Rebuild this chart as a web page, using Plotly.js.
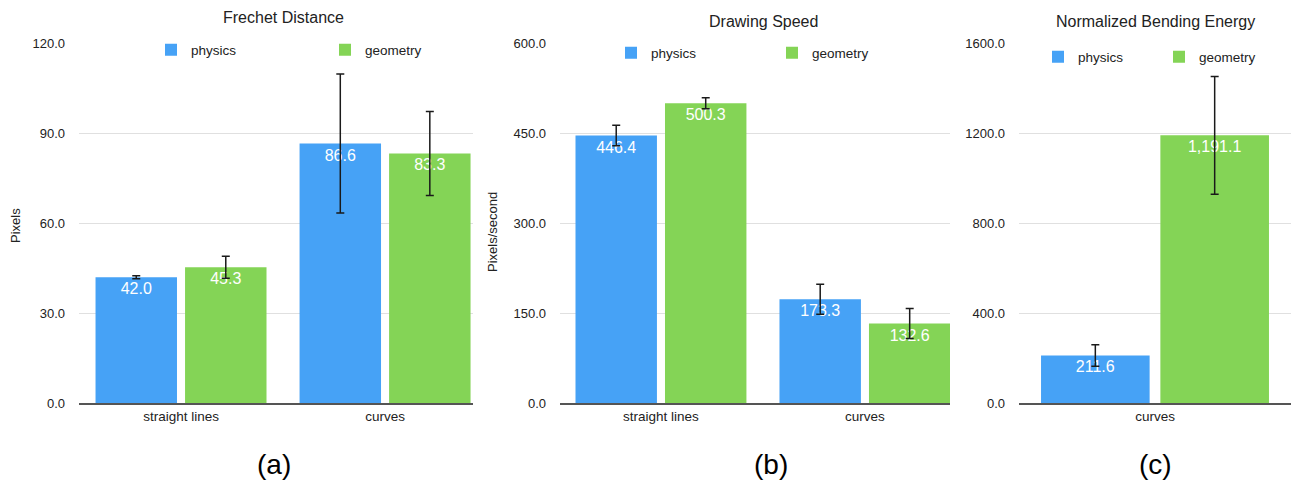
<!DOCTYPE html>
<html>
<head>
<meta charset="utf-8">
<script src="https://cdn.plot.ly/plotly-3.0.1.min.js"></script>
<style>html,body{margin:0;padding:0;background:#fff;}#chart{width:1291px;height:484px;}</style>
</head>
<body>
<div id="chart"></div>
<script>
// ---- data ----
const categoriesAB = ['straight lines', 'curves'];
const categoriesC = ['curves'];
const seriesNames = ['physics', 'geometry'];

const frechetPhysics = [42.0, 86.6];
const frechetPhysicsErr = [0.5, 23.2];
const frechetGeometry = [45.3, 83.3];
const frechetGeometryErr = [3.7, 14.0];

const speedPhysics = [446.4, 173.3];
const speedPhysicsErr = [17, 25];
const speedGeometry = [500.3, 132.6];
const speedGeometryErr = [9, 25];

const bendingPhysics = [211.6];
const bendingPhysicsErr = [48];
const bendingGeometry = [1191.1];
const bendingGeometryErr = [262];

const panelTitles = ['Frechet Distance', 'Drawing Speed', 'Normalized Bending Energy'];
const yTitles = ['Pixels', 'Pixels/second'];
const panelLabels = ['(a)', '(b)', '(c)'];

// ---- style ----
const FONT = 'Liberation Sans, Arial, Helvetica, sans-serif';
const BLUE = '#46a2f6';
const GREEN = '#84d456';
const W = 1291, H = 484;

function bar(name, color, x, y, err, xa, ya, legend) {
  return {
    type: 'bar', name: name, x: x, y: y,
    xaxis: xa, yaxis: ya, legend: legend,
    marker: {color: color, line: {width: 0}},
    texttemplate: '%{y:,.1f}', textposition: 'inside', insidetextanchor: 'end',
    textangle: 0, constraintext: 'none',
    textfont: {color: '#ffffff', size: 16, family: FONT},
    error_y: {type: 'data', array: err, visible: true, color: '#1a1a1a', thickness: 1.5, width: 4},
    hoverinfo: 'x+y'
  };
}

const data = [
  bar(seriesNames[0], BLUE, categoriesAB, frechetPhysics, frechetPhysicsErr, 'x', 'y', 'legend'),
  bar(seriesNames[1], GREEN, categoriesAB, frechetGeometry, frechetGeometryErr, 'x', 'y', 'legend'),
  bar(seriesNames[0], BLUE, categoriesAB, speedPhysics, speedPhysicsErr, 'x2', 'y2', 'legend2'),
  bar(seriesNames[1], GREEN, categoriesAB, speedGeometry, speedGeometryErr, 'x2', 'y2', 'legend2'),
  bar(seriesNames[0], BLUE, categoriesC, bendingPhysics, bendingPhysicsErr, 'x3', 'y3', 'legend3'),
  bar(seriesNames[1], GREEN, categoriesC, bendingGeometry, bendingGeometryErr, 'x3', 'y3', 'legend3')
];

const yDom = [(H - 403) / H, (H - 43.5) / H];

function xax(l, r, range) {
  return {
    domain: [l / W, r / W], range: range, type: 'category',
    showgrid: false, showline: true, linecolor: '#555', linewidth: 1.5,
    zeroline: false, ticks: '', fixedrange: true,
    tickfont: {size: 13.5, color: '#222', family: FONT}
  };
}
function yax(anchor, max, dtick) {
  return {
    domain: yDom, range: [0, max], dtick: dtick, tick0: 0, tickformat: '.1f',
    anchor: anchor, showgrid: true, gridcolor: '#e0e0e0', gridwidth: 1,
    zeroline: false, showline: false, ticks: '', ticklabelstandoff: 13,
    tickfont: {size: 13, color: '#222', family: FONT}, fixedrange: true
  };
}
function leg(xpx, ypx, ew) {
  return {
    orientation: 'h', x: xpx / W, y: (H - ypx) / H, xanchor: 'left', yanchor: 'middle',
    bgcolor: 'rgba(0,0,0,0)', borderwidth: 0, entrywidth: ew, entrywidthmode: 'pixels',
    font: {size: 13.5, color: '#222', family: FONT}, itemclick: false, itemdoubleclick: false,
    traceorder: 'normal'
  };
}
function ann(text, xpx, ypx, size, angle) {
  return {
    text: text, x: xpx / W, y: (H - ypx) / H, xref: 'paper', yref: 'paper',
    xanchor: 'center', yanchor: 'middle', showarrow: false, textangle: angle || 0,
    font: {size: size, color: '#222', family: FONT}
  };
}

const layout = {
  width: W, height: H,
  margin: {l: 0, r: 0, t: 0, b: 0, pad: 0},
  paper_bgcolor: '#ffffff', plot_bgcolor: '#ffffff',
  barmode: 'group', bargap: 0.1225, bargroupgap: 0.09,
  font: {family: FONT, color: '#222'},
  showlegend: true,
  xaxis: xax(79, 473, [-0.5, 1.431]),
  yaxis: yax('x', 120, 30),
  xaxis2: xax(560, 950, [-0.495, 1.417]),
  yaxis2: yax('x2', 600, 150),
  xaxis3: xax(1019, 1291, [-0.5, 0.5]),
  yaxis3: yax('x3', 1600, 400),
  legend: leg(151, 50, 129),
  legend2: leg(611, 53, 116),
  legend3: leg(1038, 57, 76),
  annotations: [
    ann(panelTitles[0], 283, 17, 16),
    ann(panelTitles[1], 763, 21, 16),
    ann(panelTitles[2], 1155, 22, 16),
    ann(yTitles[0], 15, 226, 13, -90),
    ann(yTitles[1], 493, 232, 13, -90),
    ann(panelLabels[0], 274, 464, 28),
    ann(panelLabels[1], 771, 464, 28),
    ann(panelLabels[2], 1155, 464, 28)
  ]
};
layout.annotations.forEach(a => { if (a.font.size === 28) a.font.color = '#000'; });

Plotly.newPlot('chart', data, layout, {displayModeBar: false, staticPlot: true});
</script>
</body>
</html>
